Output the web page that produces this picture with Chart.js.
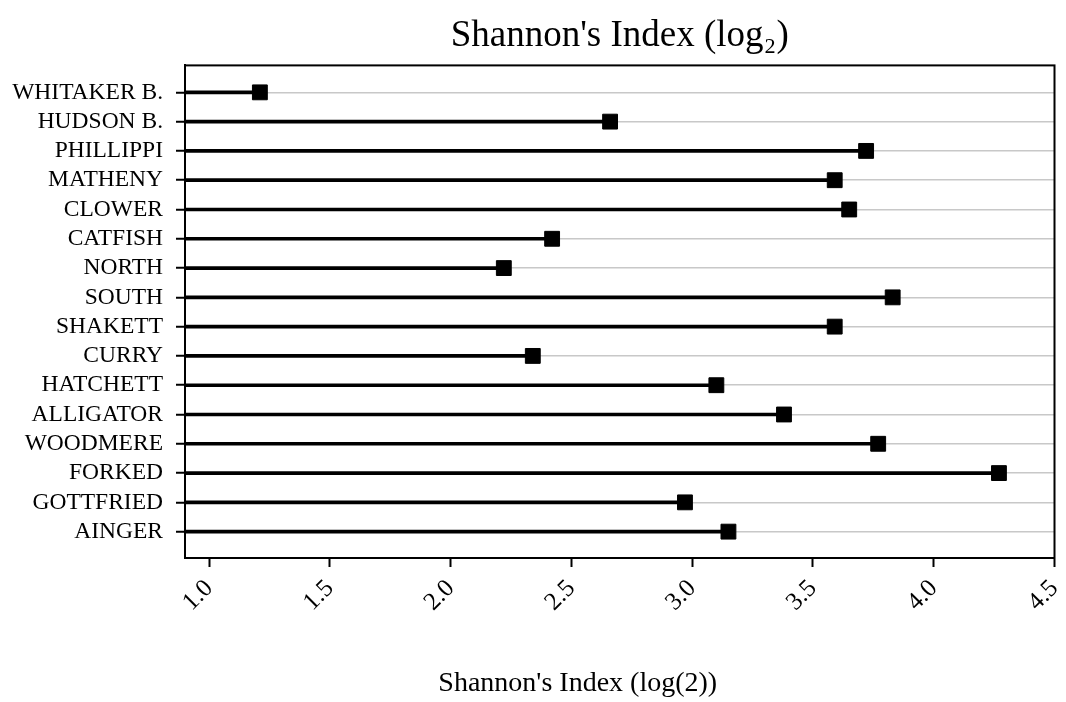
<!DOCTYPE html>
<html>
<head>
<meta charset="utf-8">
<script src="https://cdn.jsdelivr.net/npm/chart.js@4/dist/chart.umd.min.js"></script>
<style>
  html, body { margin: 0; padding: 0; background: #fff; }
  #wrap { width: 1066px; height: 702px; }
</style>
</head>
<body>
<div id="wrap"><canvas id="chart"></canvas></div>
<script>
const sites = [
  'WHITAKER B.', 'HUDSON B.', 'PHILLIPPI', 'MATHENY', 'CLOWER', 'CATFISH',
  'NORTH', 'SOUTH', 'SHAKETT', 'CURRY', 'HATCHETT', 'ALLIGATOR',
  'WOODMERE', 'FORKED', 'GOTTFRIED', 'AINGER'
];
const shannon = [
  1.21, 2.66, 3.72, 3.59, 3.65, 2.42,
  2.22, 3.83, 3.59, 2.34, 3.10, 3.38,
  3.77, 4.27, 2.97, 3.15
];
const xTicks = [1.0, 1.5, 2.0, 2.5, 3.0, 3.5, 4.0, 4.5];
const xTitle = "Shannon's Index (log(2))";

const serif = "'Liberation Serif', 'Times New Roman', serif";

// points as {x: value, y: row}
const pts = shannon.map((v, i) => ({ x: v, y: i }));

// full box around plot area + x axis title (sits a bit left of centre in the original)
const frame = {
  id: 'frame',
  afterDatasetsDraw(chart) {
    const { ctx, chartArea: a } = chart;
    ctx.save();
    ctx.strokeStyle = '#000';
    ctx.lineWidth = 2;
    ctx.strokeRect(a.left, a.top, a.right - a.left, a.bottom - a.top);
    ctx.restore();
  },
  afterDraw(chart) {
    const { ctx, chartArea: a } = chart;
    ctx.save();
    ctx.fillStyle = '#000';
    ctx.font = '28px ' + serif;
    ctx.textAlign = 'center';
    ctx.textBaseline = 'middle';
    ctx.fillText(xTitle, (a.left + a.right) / 2 - 42, a.bottom + 126);
    ctx.restore();
  }
};

new Chart(document.getElementById('chart'), {
  type: 'bar',
  data: {
    datasets: [
      {
        type: 'scatter',
        data: pts,
        pointStyle: 'rect',
        pointRadius: 10.5,
        pointHoverRadius: 10.5,
        backgroundColor: '#000',
        borderColor: '#000',
        borderWidth: 1,
        showLine: false
      },
      {
        type: 'bar',
        data: pts,
        backgroundColor: '#000',
        borderWidth: 0,
        barThickness: 3
      }
    ]
  },
  options: {
    indexAxis: 'y',
    responsive: true,
    maintainAspectRatio: false,
    animation: false,
    events: [],
    layout: { padding: { left: 0, right: 10, top: 0, bottom: 0 } },
    plugins: {
      legend: { display: false },
      tooltip: { enabled: false },
      title: {
        display: true,
        fullSize: false,
        text: "Shannon's Index (log\u2082)",
        color: '#000',
        font: { family: serif, size: 37, weight: 'normal' },
        padding: { top: 14, bottom: 7 }
      }
    },
    scales: {
      x: {
        type: 'linear',
        position: 'bottom',
        min: 0.9,
        max: 4.5,
        afterFit: s => { s.height = 144; s.paddingLeft = 0; s.paddingRight = 0; },
        afterBuildTicks: axis => { axis.ticks = xTicks.map(v => ({ value: v })); },
        ticks: {
          color: '#000',
          font: { family: serif, size: 25 },
          minRotation: 45,
          maxRotation: 45,
          autoSkip: false,
          padding: 7,
          callback: v => Number(v).toFixed(1)
        },
        grid: {
          drawOnChartArea: false,
          tickLength: 9,
          tickColor: '#000',
          tickWidth: 2
        },
        border: { color: '#000', width: 2 }
      },
      y: {
        type: 'linear',
        reverse: true,
        offset: false,
        min: -0.92,
        max: 15.9,
        afterFit: s => { s.width = 185; },
        afterBuildTicks: axis => { axis.ticks = sites.map((s, i) => ({ value: i })); },
        ticks: {
          color: '#000',
          font: { family: serif, size: 23.5 },
          padding: 13,
          autoSkip: false,
          callback: v => sites[v]
        },
        grid: {
          offset: false,
          color: '#c8c8c8',
          lineWidth: 1.5,
          tickLength: 9,
          tickColor: '#000',
          tickWidth: 2
        },
        border: { color: '#000', width: 2 }
      }
    }
  },
  plugins: [frame]
});
</script>
</body>
</html>
